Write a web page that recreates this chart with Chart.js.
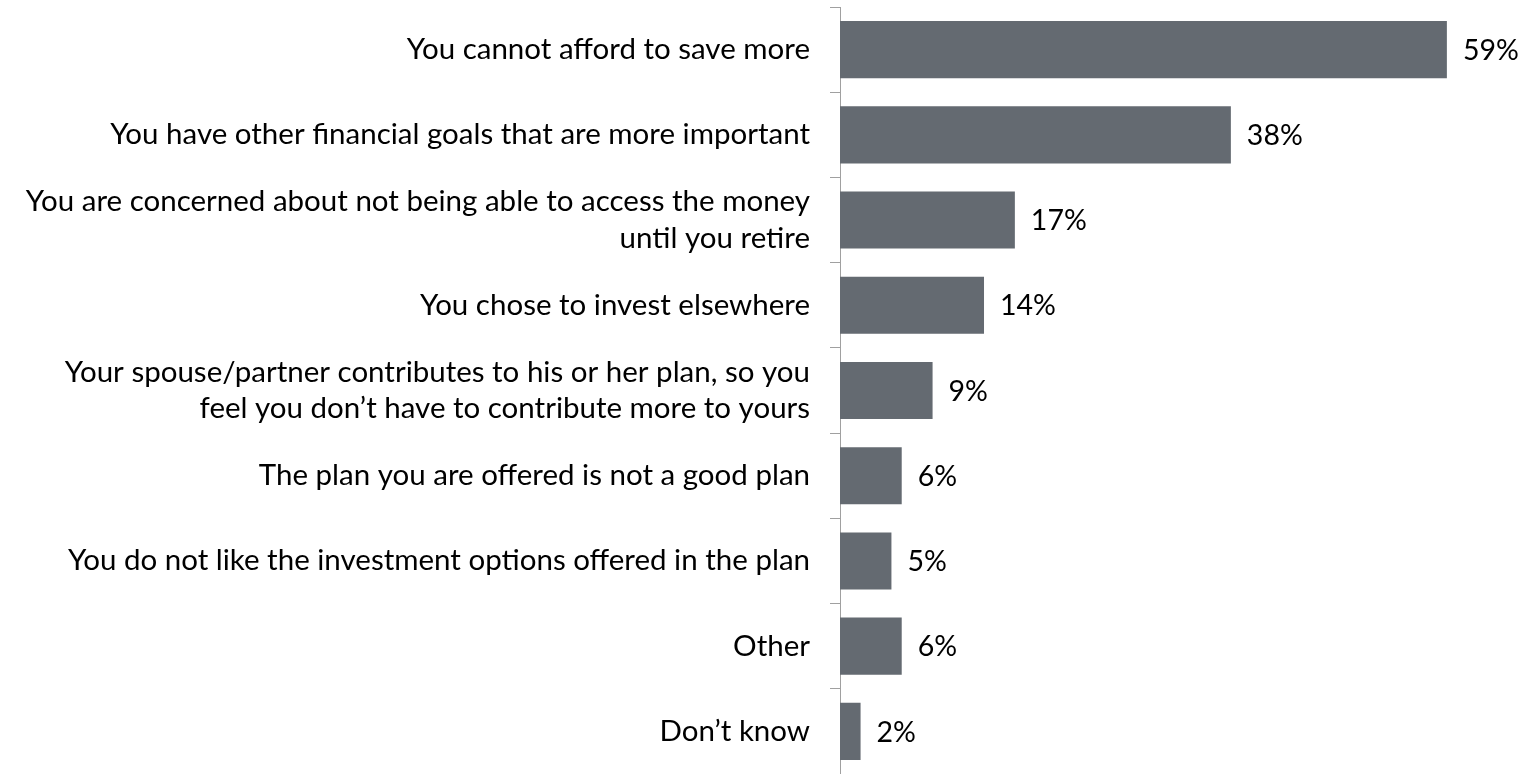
<!DOCTYPE html>
<html>
<head>
<meta charset="utf-8">
<script src="https://cdn.jsdelivr.net/npm/chart.js@4/dist/chart.umd.min.js"></script>
<style>
  html, body { margin: 0; padding: 0; background: #fff; }
  #wrap { width: 1523px; height: 774px; }
</style>
</head>
<body>
<div id="wrap"><canvas id="reasons" width="1523" height="774"></canvas></div>
<script>
// reasons for not contributing more, share of respondents (%)
var reasons = [
  "You cannot afford to save more",
  "You have other financial goals that are more important",
  ["You are concerned about not being able to access the money", "until you retire"],
  "You chose to invest elsewhere",
  ["Your spouse/partner contributes to his or her plan, so you", "feel you don\u2019t have to contribute more to yours"],
  "The plan you are offered is not a good plan",
  "You do not like the investment options offered in the plan",
  "Other",
  "Don\u2019t know"
];
var shares = [59, 38, 17, 14, 9, 6, 5, 6, 2];

var FONT = "Lato, 'Open Sans', sans-serif";
var FONT_SIZE = 29.5;
var AXIS_X = 840;

// writes "NN%" just past the end of each bar
var valueLabels = {
  id: 'valueLabels',
  afterDatasetsDraw: function (chart) {
    var ctx = chart.ctx;
    var meta = chart.getDatasetMeta(0);
    ctx.save();
    ctx.font = "28.5px " + FONT;
    ctx.fillStyle = "#000";
    ctx.textAlign = "left";
    ctx.textBaseline = "middle";
    meta.data.forEach(function (bar, i) {
      ctx.fillText(shares[i] + "%", bar.x + 16, bar.y + 1);
    });
    ctx.restore();
  }
};

new Chart(document.getElementById("reasons"), {
  type: 'bar',
  data: {
    labels: reasons,
    datasets: [{
      data: shares,
      backgroundColor: "#646a71",
      borderWidth: 0,
      categoryPercentage: 1,
      barPercentage: 0.67
    }]
  },
  options: {
    indexAxis: 'y',
    responsive: false,
    animation: false,
    layout: { padding: { top: 7, right: 0, bottom: -5, left: 0 } },
    plugins: {
      legend: { display: false },
      tooltip: { enabled: false }
    },
    scales: {
      x: {
        display: false,
        min: 0,
        max: 66.4
      },
      y: {
        afterFit: function (scale) {
          scale.width = AXIS_X;
          scale.paddingTop = 0;
          scale.paddingBottom = 0;
        },
        grid: {
          offset: true,
          drawOnChartArea: false,
          drawTicks: true,
          tickLength: 10,
          color: "#a0a0a0",
          lineWidth: 1
        },
        border: { display: true, color: "#a0a0a0", width: 1 },
        ticks: {
          color: "#000",
          padding: 20,
          font: { family: FONT, size: FONT_SIZE, lineHeight: 1.25 }
        }
      }
    }
  },
  plugins: [valueLabels]
});
</script>
</body>
</html>
